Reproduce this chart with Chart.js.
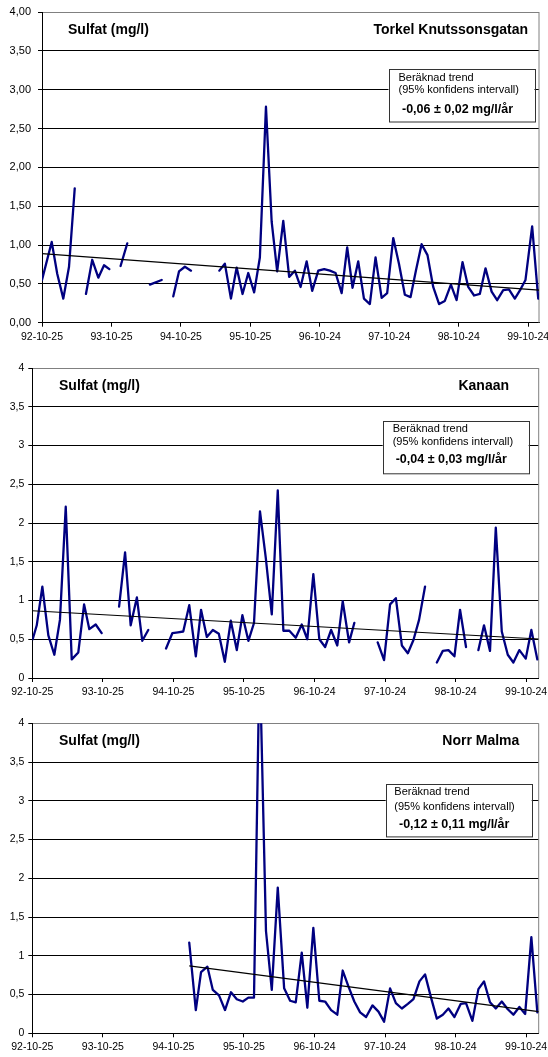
<!DOCTYPE html>
<html>
<head>
<meta charset="utf-8">
<script src="https://cdn.jsdelivr.net/npm/chart.js@4.4.0/dist/chart.umd.min.js"></script>
<style>
  body { margin: 0; background: #fff; }
  canvas { position: absolute; left: 0; }
</style>
</head>
<body>
<canvas id="torkel" width="548" height="345" style="top:0"></canvas>
<canvas id="kanaan" width="548" height="355" style="top:345px"></canvas>
<canvas id="malma" width="548" height="357" style="top:700px"></canvas>
<script>
// x axis: days since 92-10-25
const tickDays = [0, 365, 730, 1095, 1460, 1825, 2190, 2555];
const tickLabels = ["92-10-25", "93-10-25", "94-10-25", "95-10-25", "96-10-24", "97-10-24", "98-10-24", "99-10-24"];

// Torkel Knutssonsgatan (null = missing sample)
const torkelDagar = [0, 51, 80, 112, 142, 172, 200, 231, 264, 296, 326, 354, 385, 413, 448, 500, 567, 629, 660,
  690, 720, 751, 783, 850, 932, 961, 993, 1023, 1054, 1084, 1115, 1145, 1177, 1207, 1236, 1268, 1299, 1329,
  1359, 1391, 1420, 1452, 1483, 1513, 1543, 1575, 1604, 1632, 1662, 1692, 1723, 1753, 1785, 1814, 1846, 1876,
  1907, 1937, 1965, 1995, 2026, 2056, 2087, 2117, 2149, 2179, 2210, 2240, 2271, 2301, 2331, 2363, 2392, 2424,
  2454, 2485, 2515, 2541, 2576, 2608];
const torkelSulfat = [0.55, 1.04, 0.63, 0.31, 0.72, 1.73, null, 0.37, 0.81, 0.58, 0.74, 0.69, null, 0.73, 1.02,
  null, 0.49, 0.55, null, 0.34, 0.66, 0.72, 0.67, null, 0.67, 0.76, 0.31, 0.71, 0.37, 0.64, 0.39, 0.84, 2.78,
  1.30, 0.66, 1.31, 0.59, 0.67, 0.46, 0.79, 0.41, 0.67, 0.69, 0.67, 0.64, 0.38, 0.97, 0.45, 0.79, 0.31, 0.24,
  0.84, 0.32, 0.38, 1.09, 0.76, 0.36, 0.33, 0.67, 1.01, 0.87, 0.46, 0.24, 0.28, 0.49, 0.29, 0.78, 0.46, 0.35,
  0.37, 0.70, 0.40, 0.29, 0.42, 0.43, 0.31, 0.43, 0.55, 1.24, 0.31];
const torkelTrendDagar = [0, 2612];
const torkelTrend = [0.89, 0.42];

// Kanaan
const kanaanDagar = [2, 23, 52, 83, 114, 143, 173, 204, 238, 268, 295, 328, 359, 400, 449, 480, 509, 541, 569,
  600, 650, 692, 725, 754, 781, 812, 846, 873, 903, 934, 965, 996, 1027, 1058, 1087, 1118, 1147, 1178, 1208,
  1239, 1270, 1299, 1330, 1363, 1394, 1423, 1454, 1485, 1515, 1546, 1578, 1606, 1639, 1666, 1720, 1787, 1820,
  1851, 1881, 1912, 1943, 1972, 2001, 2032, 2060, 2093, 2124, 2153, 2184, 2213, 2244, 2275, 2308, 2337, 2368,
  2398, 2429, 2460, 2489, 2520, 2553, 2582, 2613];
const kanaanSulfat = [0.50, 0.68, 1.18, 0.55, 0.30, 0.75, 2.21, 0.24, 0.33, 0.95, 0.63, 0.69, 0.58, null, 0.92,
  1.62, 0.68, 1.04, 0.48, 0.62, null, 0.38, 0.58, 0.59, 0.60, 0.94, 0.28, 0.88, 0.53, 0.62, 0.57, 0.21, 0.74,
  0.36, 0.81, 0.48, 0.71, 2.15, 1.55, 0.82, 2.42, 0.61, 0.61, 0.52, 0.69, 0.50, 1.34, 0.50, 0.40, 0.62, 0.42,
  0.99, 0.46, 0.71, null, 0.46, 0.23, 0.95, 1.03, 0.42, 0.32, 0.49, 0.75, 1.18, null, 0.20, 0.35, 0.36, 0.28,
  0.88, 0.40, null, 0.36, 0.68, 0.35, 1.94, 0.60, 0.30, 0.20, 0.36, 0.25, 0.62, 0.24];
const kanaanTrendDagar = [0, 2620];
const kanaanTrend = [0.868, 0.503];

// Norr Malma
const malmaDagar = [812, 846, 873, 906, 934, 966, 997, 1028, 1058, 1089, 1118, 1147, 1176, 1209, 1239, 1270,
  1303, 1334, 1363, 1394, 1423, 1454, 1485, 1515, 1546, 1578, 1606, 1635, 1666, 1696, 1727, 1760, 1791, 1820,
  1851, 1881, 1912, 1943, 1972, 2003, 2032, 2063, 2093, 2124, 2153, 2184, 2217, 2244, 2277, 2308, 2337, 2368,
  2398, 2429, 2460, 2489, 2520, 2550, 2582, 2613];
const malmaSulfat = [1.17, 0.30, 0.79, 0.86, 0.56, 0.49, 0.30, 0.53, 0.44, 0.41, 0.46, 0.46, 4.9, 1.32, 0.56,
  1.88, 0.58, 0.42, 0.40, 1.04, 0.33, 1.36, 0.42, 0.41, 0.30, 0.24, 0.81, 0.61, 0.41, 0.27, 0.21, 0.36, 0.28,
  0.15, 0.58, 0.39, 0.32, 0.38, 0.44, 0.67, 0.76, 0.46, 0.19, 0.24, 0.32, 0.21, 0.38, 0.39, 0.16, 0.57, 0.67,
  0.40, 0.32, 0.41, 0.31, 0.24, 0.34, 0.25, 1.24, 0.27];
const malmaTrendDagar = [812, 2620];
const malmaTrend = [0.87, 0.28];

const FONT = '"Liberation Sans", Arial, sans-serif';

// headings, trend box and right frame edge
const notes = {
  id: 'notes',
  beforeDatasetsDraw(chart, args, o) {
    const c = chart.ctx, a = chart.chartArea, b = o.ruta;
    c.save();
    c.strokeStyle = '#808080';
    c.lineWidth = 1;
    c.beginPath();
    c.moveTo(a.right, a.top);
    c.lineTo(a.right, a.bottom);
    c.stroke();

    c.fillStyle = '#fff';
    c.fillRect(b.x, b.y, b.w, b.h);
    c.strokeStyle = '#333';
    c.strokeRect(Math.round(b.x) + 0.5, Math.round(b.y) + 0.5, b.w, b.h);

    c.fillStyle = '#000';
    c.textBaseline = 'middle';
    c.font = 'bold 14px ' + FONT;
    c.textAlign = 'left';
    c.fillText('Sulfat (mg/l)', o.rubrikX, o.rubrikY);
    c.textAlign = 'right';
    c.fillText(o.station, o.stationX, o.rubrikY);

    c.textAlign = 'left';
    c.font = '11px ' + FONT;
    c.fillText('Beräknad trend', b.tx, b.r1);
    c.fillText('(95% konfidens intervall)', b.tx, b.r2);
    c.font = 'bold 12.5px ' + FONT;
    c.fillText(o.trend, b.bx, b.r3);
    c.restore();
  }
};

function punkter(xs, ys) {
  return xs.map((d, i) => ({ x: d, y: ys[i] }));
}

function sulfatChart(id, p) {
  return new Chart(document.getElementById(id), {
    type: 'line',
    data: {
      datasets: [
        { data: punkter(p.trendDagar, p.trend), borderColor: '#000', borderWidth: 1.2, pointRadius: 0 },
        { data: punkter(p.dagar, p.sulfat), borderColor: '#000080', borderWidth: 2.3, pointRadius: 0,
          spanGaps: false, borderJoinStyle: 'round', borderCapStyle: 'round' }
      ]
    },
    options: {
      responsive: false,
      animation: false,
      devicePixelRatio: 1,
      layout: { padding: { top: p.area.top, right: 548 - p.area.right, left: 0, bottom: 0 } },
      plugins: { legend: { display: false }, tooltip: { enabled: false }, notes: p.notes },
      scales: {
        x: {
          type: 'linear', min: 0, max: p.maxDag,
          afterBuildTicks: s => { s.ticks = tickDays.map(v => ({ value: v })); },
          afterFit: s => { s.height = p.hojd - p.area.bottom; s.paddingLeft = 0; s.paddingRight = 0; },
          ticks: { callback: (v, i) => tickLabels[i], autoSkip: false, maxRotation: 0, padding: 4,
                   color: '#000', font: { family: FONT, size: 10.5 } },
          grid: { drawOnChartArea: false, drawTicks: true, tickLength: 4, color: '#000' },
          border: { color: '#000' }
        },
        y: {
          min: 0, max: 4,
          afterFit: s => { s.width = p.area.left; s.paddingTop = 0; s.paddingBottom = 0; },
          ticks: { stepSize: 0.5, padding: p.yPad, color: '#000', font: { family: FONT, size: p.ySize },
                   callback: v => (p.decimaler ? v.toFixed(2) : String(v)).replace('.', ',') },
          grid: { color: ctx => (ctx.tick && ctx.tick.value === 4 ? '#808080' : '#000'),
                  tickColor: '#000', tickLength: 4 },
          border: { color: '#000' }
        }
      }
    },
    plugins: [notes]
  });
}

sulfatChart('torkel', {
  dagar: torkelDagar, sulfat: torkelSulfat, trendDagar: torkelTrendDagar, trend: torkelTrend,
  hojd: 345, area: { left: 42, top: 12, right: 539, bottom: 322.7 }, maxDag: 2612, decimaler: true,
  yPad: 7, ySize: 11,
  notes: { rubrikX: 68, rubrikY: 30, station: 'Torkel Knutssonsgatan', stationX: 528,
           trend: '-0,06 ± 0,02 mg/l/år',
           ruta: { x: 388.5, y: 69, w: 146, h: 52.5, tx: 398.5, r1: 77.5, r2: 90, bx: 402, r3: 110 } }
});

sulfatChart('kanaan', {
  dagar: kanaanDagar, sulfat: kanaanSulfat, trendDagar: kanaanTrendDagar, trend: kanaanTrend,
  hojd: 355, area: { left: 32.3, top: 23, right: 538.7, bottom: 333 }, maxDag: 2620, decimaler: false,
  yPad: 4, ySize: 10.5,
  notes: { rubrikX: 59, rubrikY: 40.7, station: 'Kanaan', stationX: 509,
           trend: '-0,04 ± 0,03 mg/l/år',
           ruta: { x: 382.7, y: 76, w: 146, h: 52.3, tx: 392.7, r1: 84.3, r2: 96.7, bx: 395.7, r3: 115 } }
});

sulfatChart('malma', {
  dagar: malmaDagar, sulfat: malmaSulfat, trendDagar: malmaTrendDagar, trend: malmaTrend,
  hojd: 357, area: { left: 32.3, top: 23.3, right: 538.7, bottom: 333.3 }, maxDag: 2620, decimaler: false,
  yPad: 4, ySize: 10.5,
  notes: { rubrikX: 59, rubrikY: 41, station: 'Norr Malma', stationX: 519.3,
           trend: '-0,12 ± 0,11 mg/l/år',
           ruta: { x: 385.7, y: 84.3, w: 146, h: 52.4, tx: 394.3, r1: 92.3, r2: 106.7, bx: 399, r3: 125 } }
});
</script>
</body>
</html>
